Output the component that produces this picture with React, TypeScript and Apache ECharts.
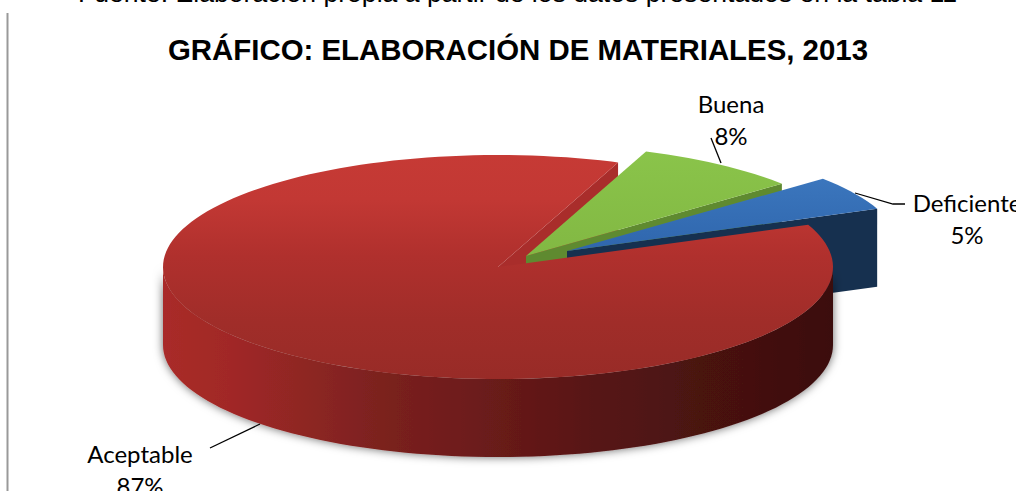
import React, { useEffect, useRef } from "react";
import * as echarts from "echarts";

const categories = ["Buena", "Deficiente", "Aceptable"];
const values = [8, 5, 87];
const sourceText = "Fuente: Elaboración propia a partir de los datos presentados en la tabla 11";
const titleText = "GRÁFICO: ELABORACIÓN DE MATERIALES, 2013";

const PIE = { rx: 335, ry: 112, depth: 78, startAngle: 21 };
const grad = (x2: number, y2: number, stops: [number, string][]) =>
  new echarts.graphic.LinearGradient(0, 0, x2, y2, stops.map(([offset, color]) => ({ offset, color })));

const look: Record<string, any> = {
  Aceptable: {
    cx: 498, cy: 267, zWall: 1, zTop: 7,
    top: grad(0, 1, [[0, "#c63a35"], [0.2, "#c23834"], [0.45, "#b0302d"], [0.75, "#a02d29"], [1, "#982b27"]]),
    wall: "#a92d2b",
    arc: grad(1, 0, [[0, "#a92c29"], [0.1, "#a12826"], [0.2, "#902724"], [0.32, "#7c211f"], [0.48, "#6b1b1a"], [0.65, "#561515"], [0.8, "#4a1211"], [1, "#3b0f0e"]]),
  },
  Buena: {
    cx: 526, cy: 256, zWall: 2, zTop: 3,
    top: grad(0, 1, [[0, "#8ac44a"], [1, "#82b843"]]),
    wall: "#5f8a30",
  },
  Deficiente: {
    cx: 567, cy: 251, zWall: 4, zTop: 5,
    top: grad(0, 1, [[0, "#3b76bd"], [1, "#2f66ad"]]),
    wall: "#16304f",
  },
};

const labelBoxes: Record<string, any> = {
  Buena: { x: 731, y: 119, leader: [[711, 138], [721, 163]] },
  Deficiente: { x: 967, y: 218.5, leader: [[855, 193], [893, 204], [905, 204]] },
  Aceptable: { x: 140, y: 469, leader: [[260, 424], [210, 448]] },
};

function rim(cx: number, cy: number, deg: number): number[] {
  const a = (deg * Math.PI) / 180;
  return [cx + PIE.rx * Math.sin(a), cy - PIE.ry * Math.cos(a)];
}

function arcPoints(cx: number, cy: number, from: number, to: number): number[][] {
  const pts: number[][] = [];
  for (let d = from; d < to; d += 2) pts.push(rim(cx, cy, d));
  pts.push(rim(cx, cy, to));
  return pts;
}

function renderItem(params: any, api: any) {
  const i = params.dataIndex;
  const total = values.reduce((s, v) => s + v, 0);
  const before = values.slice(0, i).reduce((s, v) => s + v, 0);
  const a0 = PIE.startAngle + (before / total) * 360;
  const a1 = a0 + (api.value(0) / total) * 360;
  const s = look[categories[i]];
  const { cx, cy } = s;
  const end = rim(cx, cy, a1);
  const children: any[] = [
    {
      type: "polygon",
      z2: s.zWall,
      shape: { points: [[cx, cy], end, [end[0], end[1] + PIE.depth], [cx, cy + PIE.depth]] },
      style: { fill: s.wall },
    },
    {
      type: "polygon",
      z2: s.zTop,
      shape: { points: [[cx, cy], ...arcPoints(cx, cy, a0, a1)] },
      style: { fill: s.top },
    },
  ];
  const from = Math.max(a0, 90);
  const to = Math.min(a1, 270);
  if (to > from) {
    const upper = arcPoints(cx, cy, from, to);
    const lower = upper.map((p) => [p[0], p[1] + PIE.depth]).reverse();
    children.unshift({
      type: "polygon",
      z2: s.zTop - 1,
      shape: { points: [...upper, ...lower] },
      style: { fill: s.arc, shadowBlur: 10, shadowColor: "rgba(0,0,0,0.6)" },
    });
  }
  return { type: "group", children };
}

export default function App() {
  const ref = useRef<HTMLDivElement>(null);
  useEffect(() => {
    const chart = echarts.init(ref.current!, null, { renderer: "svg" });
    const labelFont = { fontFamily: "Lato", fontSize: 24, lineHeight: 32, fill: "#000", align: "center", verticalAlign: "middle" };
    const labels: any[] = categories.map((name, i) => ({
      type: "text",
      x: labelBoxes[name].x,
      y: labelBoxes[name].y,
      z: 10,
      style: { ...labelFont, text: `${name}\n${values[i]}%` },
    }));
    const leaders: any[] = categories.map((name) => ({
      type: "polyline",
      z: 10,
      shape: { points: labelBoxes[name].leader },
      style: { stroke: "#000", lineWidth: 1.3, fill: "none" },
    }));
    chart.setOption({
      animation: false,
      backgroundColor: "#fff",
      title: [
        {
          text: sourceText, left: 73, top: -26,
          textStyle: { fontFamily: "Liberation Sans", fontSize: 26.6, fontWeight: "normal", color: "#000" },
        },
        {
          text: titleText, left: 163, top: 30,
          textStyle: { fontFamily: "Liberation Sans", fontSize: 29.4, fontWeight: "bold", color: "#000" },
        },
      ],
      graphic: [
        { type: "line", z: 10, shape: { x1: 7.5, y1: 13, x2: 7.5, y2: 491 }, style: { stroke: "#999", lineWidth: 2 } },
        ...leaders,
        ...labels,
      ],
      series: [
        {
          type: "custom",
          coordinateSystem: "none",
          silent: true,
          renderItem,
          data: categories.map((name, i) => ({ name, value: values[i] })),
        },
      ],
    });
    return () => chart.dispose();
  }, []);
  return <div ref={ref} style={{ position: "fixed", left: 0, top: 0, width: 1016, height: 491, overflow: "hidden" }} />;
}
